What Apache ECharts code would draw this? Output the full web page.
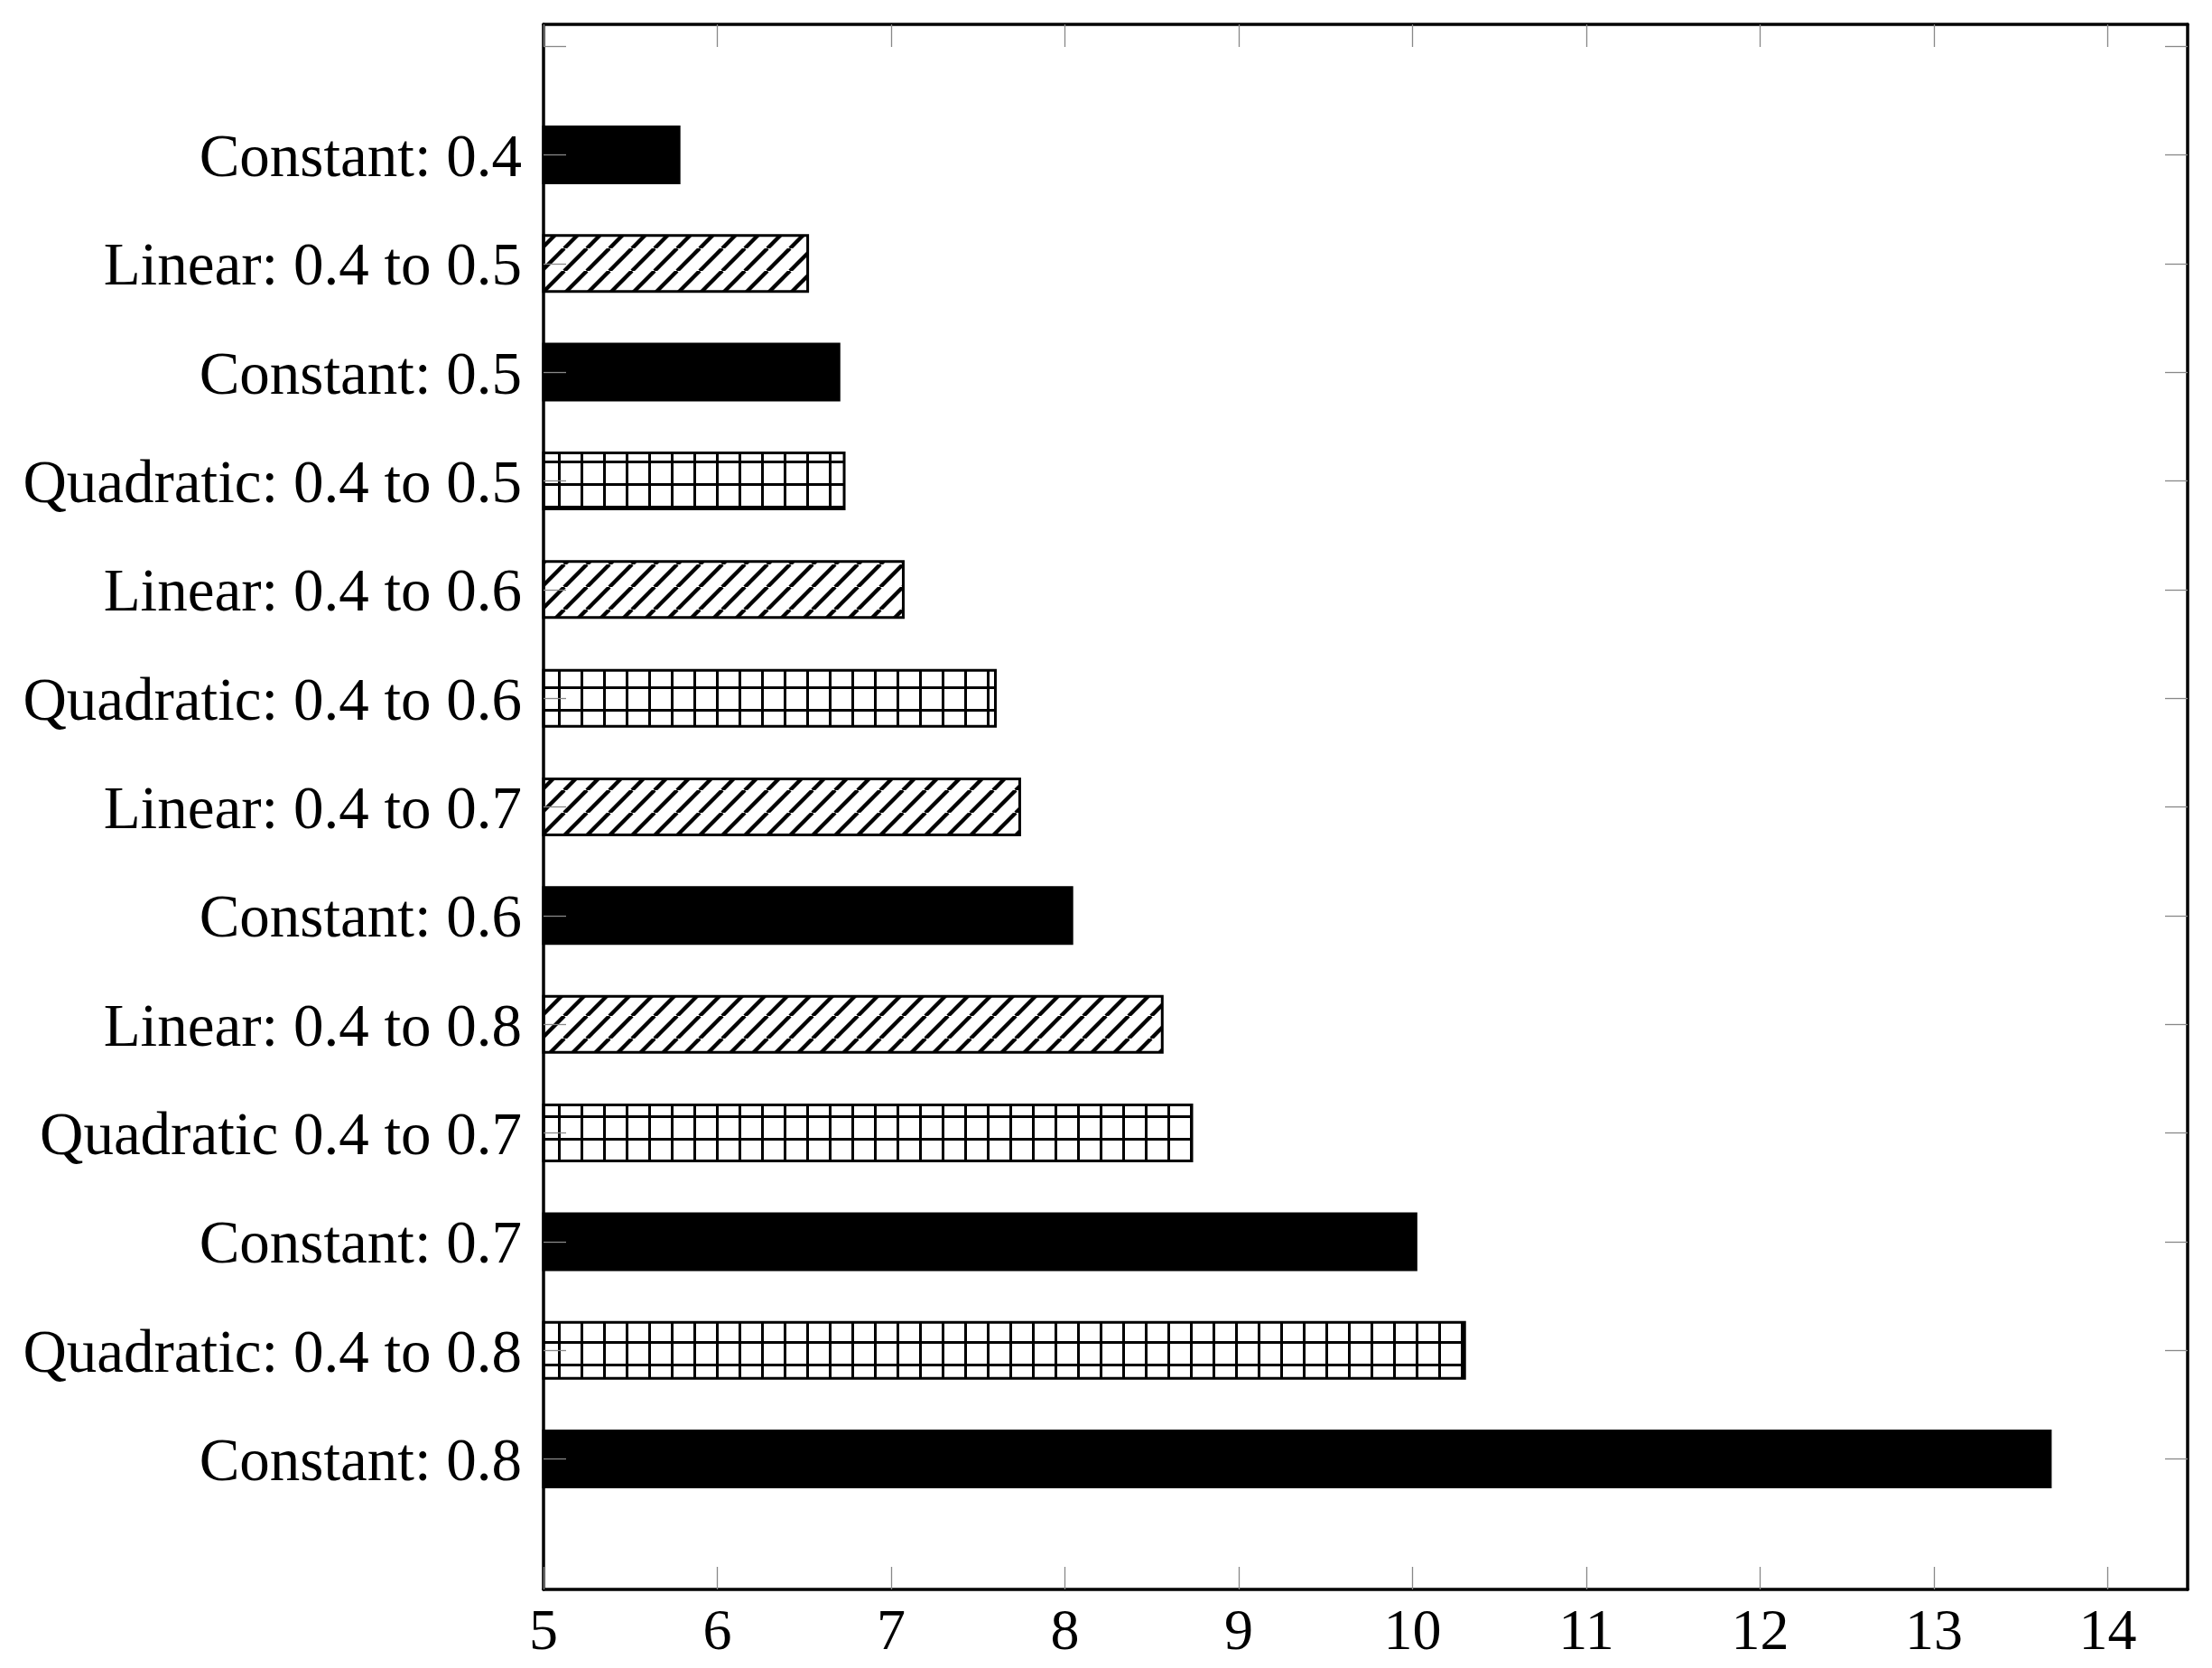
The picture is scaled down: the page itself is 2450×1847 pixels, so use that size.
<!DOCTYPE html>
<html>
<head>
<meta charset="utf-8">
<style>
  html, body { margin: 0; padding: 0; background: #ffffff; }
  #chart { width: 2450px; height: 1847px; }
</style>
<script src="https://cdn.jsdelivr.net/npm/echarts/dist/echarts.min.js"></script>
</head>
<body>
<div id="chart"></div>
<script>
// ---- data (top to bottom) ----
var categories = [
  'Constant: 0.4',
  'Linear: 0.4 to 0.5',
  'Constant: 0.5',
  'Quadratic: 0.4 to 0.5',
  'Linear: 0.4 to 0.6',
  'Quadratic: 0.4 to 0.6',
  'Linear: 0.4 to 0.7',
  'Constant: 0.6',
  'Linear: 0.4 to 0.8',
  'Quadratic 0.4 to 0.7',
  'Constant: 0.7',
  'Quadratic: 0.4 to 0.8',
  'Constant: 0.8'
];
var values = [5.78, 6.52, 6.70, 6.73, 7.07, 7.60, 7.74, 8.04, 8.56, 8.73, 10.02, 10.30, 13.67];
var xTickValues = [5, 6, 7, 8, 9, 10, 11, 12, 13, 14];
var methods = ['Constant', 'Linear', 'Quadratic'];

// ---- styles ----
var X_MIN = 5, X_MAX = 14.46;
var Y_MIN = -1.2, Y_MAX = 13.2;
var BAR_UNITS = 0.515;
var FONT = "'Liberation Serif', 'DejaVu Serif', serif";
var TICK_COLOR = '#888888';

function makeHatch() {
  var c = document.createElement('canvas');
  c.width = 25; c.height = 25;
  var ctx = c.getContext('2d');
  ctx.fillStyle = '#fff'; ctx.fillRect(0, 0, 25, 25);
  ctx.strokeStyle = '#000'; ctx.lineWidth = 4.4;
  [-25, 0, 25].forEach(function (o) {
    ctx.beginPath(); ctx.moveTo(o, 25); ctx.lineTo(o + 25, 0); ctx.stroke();
  });
  return c;
}
function makeGrid() {
  var c = document.createElement('canvas');
  c.width = 25; c.height = 25;
  var ctx = c.getContext('2d');
  ctx.fillStyle = '#fff'; ctx.fillRect(0, 0, 25, 25);
  ctx.fillStyle = '#000';
  ctx.fillRect(0, 0, 3, 25);
  ctx.fillRect(0, 0, 25, 3);
  return c;
}
var FILLS = {
  Constant: '#000000',
  Linear: { image: makeHatch(), repeat: 'repeat', x: 0, y: 0 },
  Quadratic: { image: makeGrid(), repeat: 'repeat', x: 18, y: 10 }
};

function methodOf(label) { return label.split(/[: ]/)[0]; }

var series = methods.map(function (m) {
  var data = [];
  categories.forEach(function (c, i) {
    if (methodOf(c) === m) data.push([values[i], i]);
  });
  return {
    type: 'custom',
    name: m,
    coordinateSystem: 'cartesian2d',
    xAxisIndex: 0,
    yAxisIndex: 0,
    z: 2,
    data: data,
    encode: { x: 0, y: 1 },
    renderItem: function (params, api) {
      var v = api.value(0), idx = api.value(1);
      var p0 = api.coord([X_MIN, idx]);
      var p1 = api.coord([v, idx]);
      var h = Math.abs(api.size([0, BAR_UNITS])[1]);
      return {
        type: 'rect',
        shape: { x: p0[0], y: p0[1] - h / 2, width: p1[0] - p0[0], height: h },
        style: { fill: FILLS[m], stroke: '#000', lineWidth: 3 }
      };
    }
  };
});

var yTickValues = [];
for (var k = -1; k < categories.length; k++) yTickValues.push(k);
var yLabelValues = categories.map(function (c, i) { return i; });

function axisLine() { return { show: true, onZero: false, lineStyle: { color: '#000', width: 3.5 } }; }
function ticks(vals) { return { show: true, inside: true, length: 25, customValues: vals, lineStyle: { color: TICK_COLOR, width: 1.3 } }; }

var option = {
  animation: false,
  backgroundColor: '#ffffff',
  grid: { left: 602, right: 27, top: 27, bottom: 87, containLabel: false },
  xAxis: [
    {
      type: 'value', position: 'bottom', min: X_MIN, max: X_MAX,
      axisLine: axisLine(),
      axisTick: ticks(xTickValues),
      axisLabel: { show: true, customValues: xTickValues, fontFamily: FONT, fontSize: 64, color: '#000', margin: 17 },
      splitLine: { show: false }, z: 3
    },
    {
      type: 'value', position: 'top', min: X_MIN, max: X_MAX,
      axisLine: axisLine(),
      axisTick: ticks(xTickValues),
      axisLabel: { show: false },
      splitLine: { show: false }, z: 3
    }
  ],
  yAxis: [
    {
      type: 'value', position: 'left', inverse: true, min: Y_MIN, max: Y_MAX,
      axisLine: axisLine(),
      axisTick: ticks(yTickValues),
      axisLabel: {
        show: true, customValues: yLabelValues, fontFamily: FONT, fontSize: 67, color: '#000', margin: 24,
        formatter: function (v) { return '{c|' + (categories[Math.round(v)] || '') + '}'; },
        rich: { c: { fontFamily: FONT, fontSize: 67, color: '#000', padding: [12, 0, 0, 0] } }
      },
      splitLine: { show: false }, z: 3
    },
    {
      type: 'value', position: 'right', inverse: true, min: Y_MIN, max: Y_MAX,
      axisLine: axisLine(),
      axisTick: ticks(yTickValues),
      axisLabel: { show: false },
      splitLine: { show: false }, z: 3
    }
  ],
  series: series
};

var chart = echarts.init(document.getElementById('chart'), null, { renderer: 'canvas' });
chart.setOption(option);
</script>
</body>
</html>
